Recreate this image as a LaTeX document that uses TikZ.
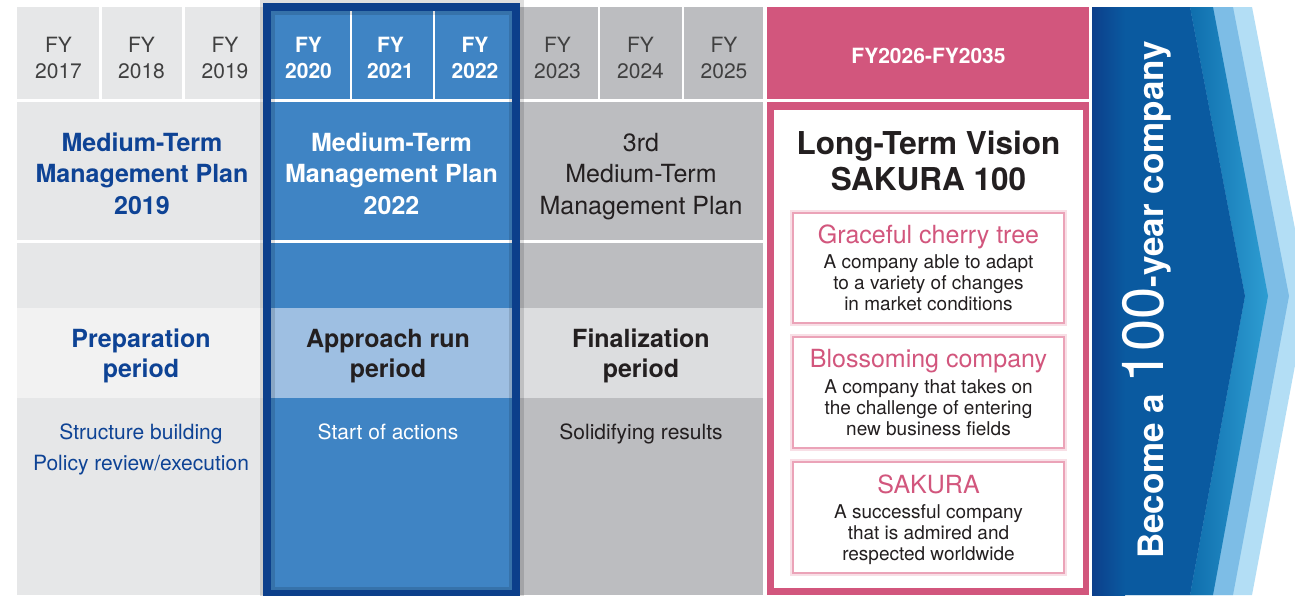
\documentclass[tikz,border=0pt]{standalone}
\usepackage{fontspec}
\setmainfont{TeX Gyre Heros}
\definecolor{lgray}{HTML}{E6E7E8}
\definecolor{lgrayP}{HTML}{F2F2F2}
\definecolor{bmain}{HTML}{3F84C4}
\definecolor{bperiod}{HTML}{9EBFE2}
\definecolor{frame}{HTML}{0C3F8B}
\definecolor{mgray}{HTML}{BCBDC0}
\definecolor{mgrayP}{HTML}{DCDDDF}
\definecolor{pinkc}{HTML}{D2567D}
\definecolor{boxpink}{HTML}{EBA3B8}
\definecolor{tblue}{HTML}{0E4395}
\definecolor{tdark}{HTML}{231F20}
\definecolor{fygray}{HTML}{404040}
\definecolor{arr0}{HTML}{0C3F8B}
\definecolor{arr1}{HTML}{0A5AA0}
\definecolor{arr2a}{HTML}{0F6EAD}
\definecolor{arr2b}{HTML}{2E9DD2}
\definecolor{arr3}{HTML}{7DBDE6}
\definecolor{arr4}{HTML}{B3DEF5}
\begin{document}
\begin{tikzpicture}[x=1pt,y=-1pt,
  txt/.style={align=center, anchor=base, inner sep=0pt},
  fyg/.style={txt, font=\fontsize{21}{26}\selectfont, text=fygray},
  fyw/.style={txt, font=\bfseries\fontsize{21}{26}\selectfont, text=white},
  hdr/.style={txt, font=\bfseries\fontsize{21}{26}\selectfont, text=white},
  plan/.style={txt, font=\fontsize{25}{31.5}\selectfont},
  planb/.style={txt, font=\bfseries\fontsize{25}{31.5}\selectfont},
  per/.style={txt, font=\bfseries\fontsize{25}{30}\selectfont},
  desc/.style={txt, font=\fontsize{21}{31}\selectfont},
  vision/.style={txt, font=\bfseries\fontsize{31.5}{36}\selectfont, text=tdark},
  btitle/.style={txt, font=\fontsize{25}{30}\selectfont, text=pinkc},
  bbody/.style={txt, font=\fontsize{19}{21}\selectfont, text=tdark},
  subbox/.style={draw=boxpink, line width=2.5pt, fill=white,
    minimum width=271pt, inner sep=0pt,
    preaction={draw=boxpink!35, line width=5.5pt}},
]
\useasboundingbox (0,0) rectangle (1295,595);
\fill[white] (0,0) rectangle (1295,595);

% left grey column
\fill[lgray] (17,7) rectangle (99,99);
\fill[lgray] (102,7) rectangle (182,99);
\fill[lgray] (185,7) rectangle (266,99);
\fill[lgray] (17,102) rectangle (266,240);
\fill[lgray] (17,243) rectangle (266,595);
\fill[lgrayP] (17,308) rectangle (266,398);

% third column
\fill[mgray] (518,7) rectangle (598,99);
\fill[mgray] (600,7) rectangle (682,99);
\fill[mgray] (684,7) rectangle (763,99);
\fill[mgray] (518,102) rectangle (763,240);
\fill[mgray] (518,243) rectangle (763,595);
\fill[mgrayP] (518,308) rectangle (763,398);

% blue column
\fill[bmain] (263,3) rectangle (520,597);
\fill[bperiod] (271,308) rectangle (512,398);
\draw[white, line width=2.5pt] (351,11) -- (351,99.5);
\draw[white, line width=2.5pt] (434,11) -- (434,99.5);
\draw[white, line width=2.5pt] (271,100.5) -- (512,100.5);
\draw[white, line width=2.5pt] (271,241.5) -- (512,241.5);
\draw[black, opacity=0.13, line width=15pt] (267,7) rectangle (516,594);
\draw[frame, line width=8pt] (267,7) rectangle (516,594);

% pink column
\fill[pinkc] (767,7) rectangle (1089,99);
\fill[pinkc] (767,102) rectangle (1089,595);
\fill[white] (774,110) rectangle (1083,588);
\node[subbox, minimum height=110pt] (box1) at (928.5,268) {};
\node[subbox, minimum height=111pt] (box2) at (928.5,392.5) {};
\node[subbox, minimum height=111pt] (box3) at (928.5,517.5) {};

% arrow
\begin{scope}
\clip (1092,7) rectangle (1295,595);
\fill[arr4] (1092,7) -- (1252,7) -- (1308,296) -- (1252,595) -- (1092,595) -- cycle;
\fill[arr3] (1092,7) -- (1233,7) -- (1289,296) -- (1233,595) -- (1092,595) -- cycle;
\shade[left color=arr2a, right color=arr2b] (1190,7) -- (1213,7) -- (1268,296) -- (1213,595) -- (1190,595) -- (1245,296) -- cycle;
\fill[arr1] (1092,7) -- (1190,7) -- (1245,296) -- (1190,595) -- (1092,595) -- cycle;
\shade[left color=arr0, right color=arr1] (1092,7) rectangle (1125,595);
\end{scope}
\node[rotate=90, anchor=base, inner sep=0pt, text=white, font=\bfseries\fontsize{35}{35}\selectfont] (goal) at (1163,300)
  {Become a {\mdseries\fontsize{58}{58}\selectfont 100}-year company};

% FY labels (anchor base = last line)
\node[fyg] (fy17) at (58.5,78) {FY\\2017};
\node[fyg] (fy18) at (141.5,78) {FY\\2018};
\node[fyg] (fy19) at (225,78) {FY\\2019};
\node[fyw] (fy20) at (308.5,78) {FY\\2020};
\node[fyw] (fy21) at (390.5,78) {FY\\2021};
\node[fyw] (fy22) at (475,78) {FY\\2022};
\node[fyg] (fy23) at (557.5,78) {FY\\2023};
\node[fyg] (fy24) at (640.5,78) {FY\\2024};
\node[fyg] (fy25) at (724,78) {FY\\2025};
\node[hdr] (fy26) at (928.5,63) {FY2026-FY2035};

% plans
\node[planb, text=tblue] (mtp19) at (142,214) {Medium-Term\\Management Plan\\2019};
\node[planb, text=white] (mtp22) at (391.5,214) {Medium-Term\\Management Plan\\2022};
\node[plan, text=tdark] (mtp3) at (641,214) {3rd\\Medium-Term\\Management Plan};
\node[vision] (ltv) at (928.5,190) {Long-Term Vision\\SAKURA 100};

% periods
\node[per, text=tblue] (prep) at (141,377) {Preparation\\period};
\node[per, text=tdark] (appr) at (388,377) {Approach run\\period};
\node[per, text=tdark] (fin) at (641,377) {Finalization\\period};

% descriptions
\node[desc, text=tblue] (d1) at (141,470) {Structure building\\Policy review/execution};
\node[desc, text=white] (d2) at (388,439) {Start of actions};
\node[desc, text=tdark] (d3) at (641,439) {Solidifying results};

% vision boxes
\node[btitle] (t1) at (928.5,243) {Graceful cherry tree};
\node[bbody] (x1) at (928.5,310) {A company able to adapt\\to a variety of changes\\in market conditions};
\node[btitle] (t2) at (928.5,367) {Blossoming company};
\node[bbody] (x2) at (928.5,435) {A company that takes on\\the challenge of entering\\new business fields};
\node[btitle] (t3) at (928.5,493) {SAKURA};
\node[bbody] (x3) at (928.5,560) {A successful company\\that is admired and\\respected worldwide};
\end{tikzpicture}
\end{document}
